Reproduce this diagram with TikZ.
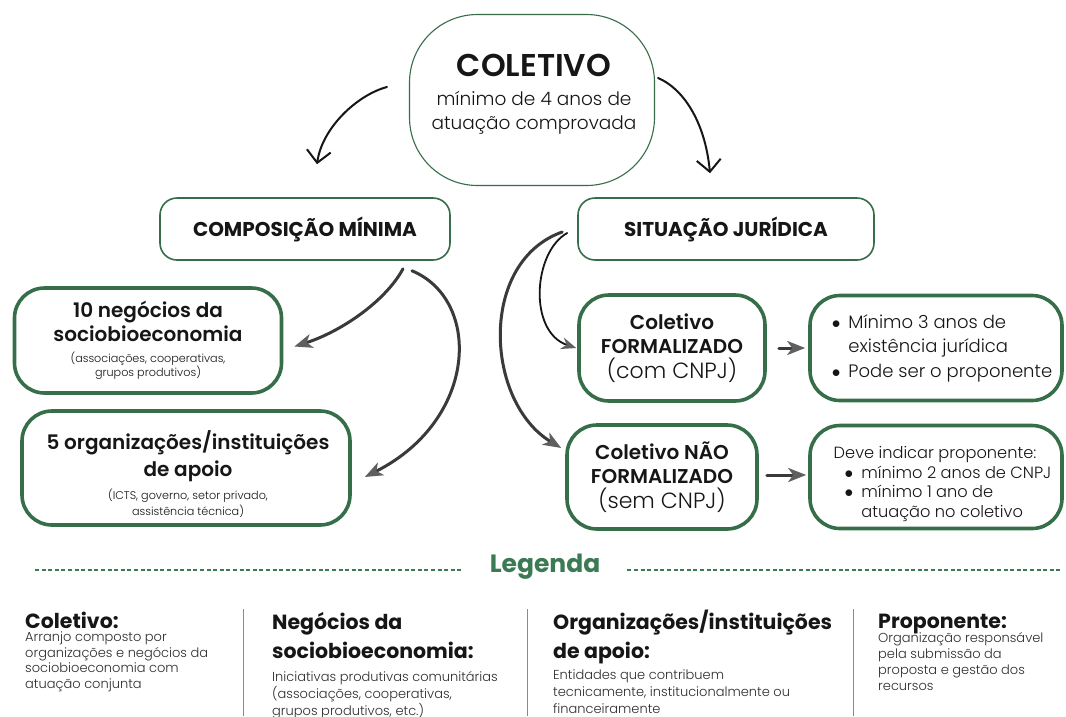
\documentclass[tikz,border=0pt]{standalone}
\usepackage{fontspec}
\setmainfont{Poppins}
\IfFontExistsTF{Poppins Light}{\newfontfamily\lightfam{Poppins Light}}{\newfontfamily\lightfam{Poppins}}
\usetikzlibrary{arrows.meta}
\definecolor{bgreen}{RGB}{55,110,74}
\definecolor{lgreen}{RGB}{60,122,84}
\definecolor{divgray}{RGB}{125,145,135}
\definecolor{ink}{RGB}{22,22,22}
\definecolor{bodyink}{RGB}{45,45,45}
\definecolor{chalk}{RGB}{58,58,58}
\definecolor{chalkhead}{RGB}{95,95,95}
\newcommand\boxhead{\bfseries\fontsize{20}{24}\selectfont}
\newcommand\nolskip{\lineskiplimit=-40pt\lineskip=0pt}
\begin{document}
\begin{tikzpicture}[x=1pt,y=-1pt,
  every node/.style={inner sep=0pt, text=ink},
  blobst/.style={draw=bgreen, line width=1.1pt, fill=white, rounded corners=68pt,
    minimum width=245pt, minimum height=171pt},
  topbox/.style={draw=bgreen, line width=1.6pt, fill=white, rounded corners=17pt,
    minimum height=62pt, font=\bfseries\fontsize{20}{24}\selectfont},
  bigbox/.style={draw=bgreen, line width=3.6pt, fill=white, rounded corners=30pt, align=center},
  toparrow/.style={draw=ink, line width=2pt, line cap=round,
    -{Straight Barb[length=12pt,width=24pt]}},
  chalkarrow/.style={draw=chalk, line width=3pt, line cap=round,
    -{Stealth[length=18pt,width=14pt,inset=5pt,fill=chalkhead,color=chalkhead]}},
  thinchalk/.style={draw=ink, line width=1.8pt, line cap=round,
    -{Stealth[length=15pt,width=12pt,inset=5pt,fill=chalkhead,color=chalkhead]}},
  legdash/.style={draw=lgreen, line width=1.2pt, dash pattern=on 4pt off 2.6pt},
  divider/.style={draw=divgray, line width=1pt},
  legtitle/.style={anchor=base west, align=left, font=\bfseries\fontsize{20.5}{29}\selectfont\nolskip, text=ink},
  legbody/.style={anchor=base west, align=left, text=bodyink}
]
\useasboundingbox (0,0) rectangle (1066,716);
\fill[white] (0,0) rectangle (1066,716);

% top blob
\node[blobst] (blob) at (532,100) {};
\node[anchor=base, align=center, font=\lightfam\fontsize{18.5}{23.5}\selectfont\nolskip] (blobtxt) at (534,129)
  {{\bfseries\fontsize{31.5}{31.5}\selectfont COLETIVO}\\[6pt]
   mínimo de 4 anos de\\
   atuação comprovada};

% second row
\node[topbox, minimum width=290pt] (comp) at (305,229) {COMPOSIÇÃO MÍNIMA};
\node[topbox, minimum width=296pt] (sit) at (726,229) {SITUAÇÃO JURÍDICA};

% left column boxes
\node[bigbox, minimum width=267pt, minimum height=105pt,
      font=\lightfam\fontsize{11.2}{14.5}\selectfont\nolskip] (neg) at (148,340.5)
  {{\boxhead 10 negócios da}\\[9.5pt]{\boxhead sociobioeconomia}\\[6.5pt]
   (associações, cooperativas,\\grupos produtivos)};
\node[bigbox, minimum width=328pt, minimum height=114pt] (org) at (186,468) {};
\node[anchor=base, align=center, font=\lightfam\fontsize{11.2}{16}\selectfont\nolskip] (orgtxt) at (188,515)
  {{\boxhead 5 organizações/instituições}\\[11pt]{\boxhead de apoio}\\[7pt]
   (ICTS, governo, setor privado,\\assistência técnica)};

% right column boxes
\node[bigbox, minimum width=186pt, minimum height=106pt,
      font=\lightfam\fontsize{22}{24.5}\selectfont\nolskip] (form) at (672,348)
  {{\boxhead Coletivo}\\{\boxhead FORMALIZADO}\\(com CNPJ)};
\node[bigbox, minimum width=190pt, minimum height=104pt,
      font=\lightfam\fontsize{22}{24.5}\selectfont\nolskip] (nform) at (662,477)
  {{\boxhead Coletivo NÃO}\\{\boxhead FORMALIZADO}\\(sem CNPJ)};
\node[bigbox, minimum width=252pt, minimum height=105pt,
      font=\lightfam\fontsize{18}{24.5}\selectfont] (rb1) at (936,348)
  {\hspace*{12pt}\begin{tabular}{@{}l@{\hspace{8pt}}l@{}}
   $\bullet$ & Mínimo 3 anos de\\
             & existência jurídica\\
   $\bullet$ & Pode ser o proponente
   \end{tabular}};
\node[bigbox, minimum width=252pt, minimum height=103pt,
      font=\lightfam\fontsize{16.2}{19.5}\selectfont] (rb2) at (936,477)
  {\hspace*{13pt}\raisebox{-7pt}[\height][\depth]{\begin{tabular}{@{}l@{\hspace{8pt}}l@{}}
   \multicolumn{2}{@{}l@{}}{Deve indicar proponente:}\\
   \hspace{11pt}$\bullet$ & mínimo 2 anos de CNPJ\\
   \hspace{11pt}$\bullet$ & mínimo 1 ano de\\
                          & atuação no coletivo
   \end{tabular}}};

% arrows from blob
\draw[toparrow] ([xshift=-22pt,yshift=13pt]blob.west)
  .. controls (357,95) and (322,128) .. ([xshift=12pt,yshift=33pt]comp.north);
\draw[toparrow] ([xshift=3pt,yshift=22pt]blob.east)
  .. controls (682,88) and (705,120) .. ([xshift=-16pt,yshift=24pt]sit.north);

% arrows from COMPOSICAO
\draw[chalkarrow] ([xshift=98pt,yshift=-8pt]comp.south)
  .. controls (385,302) and (340,332) .. ([xshift=11pt,yshift=-6pt]neg.east);
\draw[chalkarrow] ([xshift=107pt,yshift=-10pt]comp.south)
  .. controls (482,300) and (478,420) .. ([xshift=13pt,yshift=-9pt]org.east);

% arrows from SITUACAO
\draw[thinchalk] ([xshift=-10pt,yshift=-4pt]sit.west)
  .. controls (533,252) and (528,332) .. ([xshift=-1pt]form.west);
\draw[chalkarrow] ([xshift=-15pt,yshift=-3pt]sit.west)
  .. controls (478,262) and (485,402) .. ([xshift=-4pt,yshift=29pt]nform.west);

% horizontal arrows
\draw[chalkarrow, shorten <=12pt, shorten >=3pt] (form.east) -- (rb1.west);
\draw[chalkarrow, shorten <=8pt, shorten >=2pt] ([yshift=2pt]nform.east) -- ([yshift=2pt]rb2.west);

% legend
\node[font=\bfseries\fontsize{25}{30}\selectfont, text=lgreen] (leg) at (545,567) {Legenda};
\coordinate (dl) at (35,570);
\coordinate (dr) at (1062,570);
\draw[legdash, shorten >=27pt] (dl) -- (leg.west |- dl);
\draw[legdash, shorten <=27pt] (leg.east |- dr) -- (dr);

\draw[divider] (243,609) -- (243,716);
\draw[divider] (527,609) -- (527,716);
\draw[divider] (853,609) -- (853,716);

\node[legtitle] (t1) at (25,628) {Coletivo:};
\node[legbody, font=\lightfam\fontsize{13}{15.4}\selectfont\nolskip] (b1) at (25,688)
  {Arranjo composto por\\organizações e negócios da\\sociobioeconomia com\\atuação conjunta};

\node[legtitle] (t2) at (272,658) {Negócios da\\sociobioeconomia:};
\node[legbody, font=\lightfam\fontsize{13}{17}\selectfont\nolskip] (b2) at (272,715)
  {Iniciativas produtivas comunitárias\\(associações, cooperativas,\\grupos produtivos, etc.)};

\node[legtitle] (t3) at (553,658) {Organizações/instituições\\de apoio:};
\node[legbody, font=\lightfam\fontsize{13}{17}\selectfont\nolskip] (b3) at (553,713)
  {Entidades que contribuem\\tecnicamente, institucionalmente ou\\financeiramente};

\node[legtitle] (t4) at (878,628) {Proponente:};
\node[legbody, font=\lightfam\fontsize{13}{16}\selectfont\nolskip] (b4) at (878,690)
  {Organização responsável\\pela submissão da\\proposta e gestão dos\\recursos};
\end{tikzpicture}
\end{document}
